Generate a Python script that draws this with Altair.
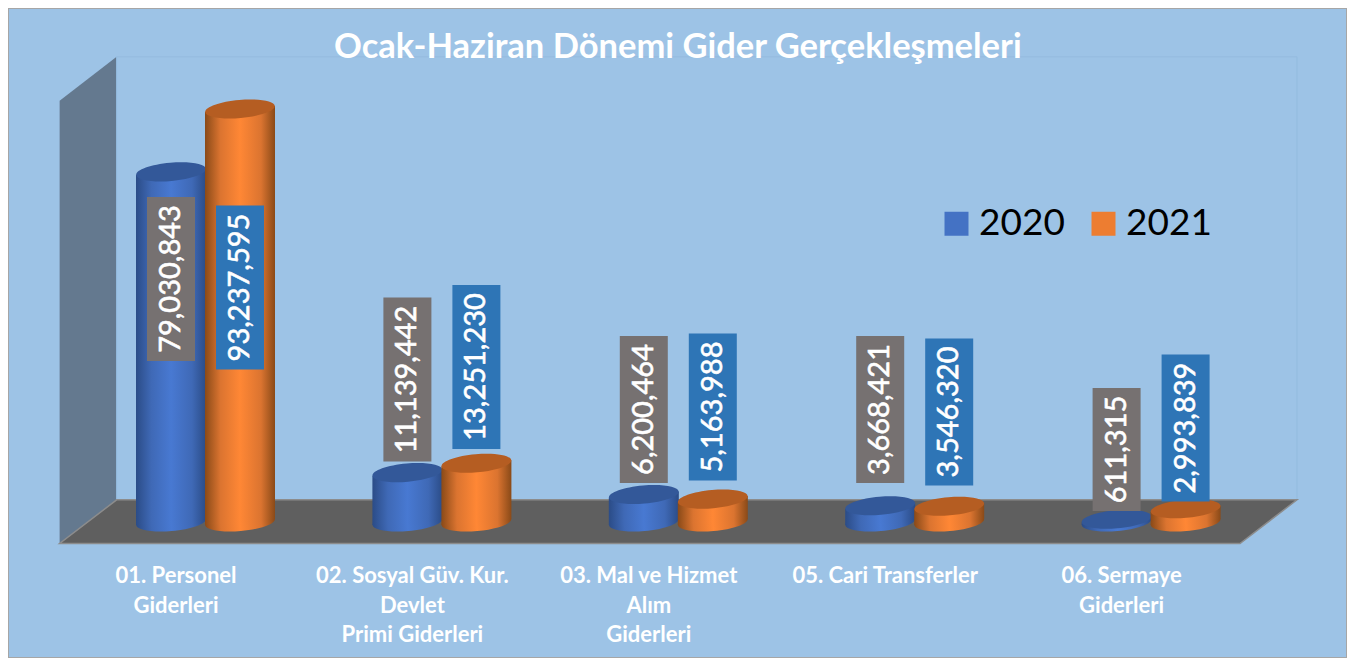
import altair as alt
import pandas as pd

title_text = "Ocak-Haziran Dönemi Gider Gerçekleşmeleri"
categories = ["01. Personel\nGiderleri", "02. Sosyal Güv. Kur.\nDevlet\nPrimi Giderleri",
              "03. Mal ve Hizmet\nAlım\nGiderleri", "05. Cari Transferler", "06. Sermaye\nGiderleri"]
years = ["2020", "2021"]
v2020 = [79030843, 11139442, 6200464, 3668421, 611315]
v2021 = [93237595, 13251230, 5163988, 3546320, 2993839]
# where each hand-placed data label is centred, in the units of the value axis
label_mid_2020 = [54850000, 32170000, 25400000, 25400000, 16370000]
label_mid_2021 = [52930000, 35000000, 25960000, 24830000, 21200000]

# chart furniture, in axis units (category index / value)
wall_x = [-0.617, -0.376]
wall_top = [95100000, 105000000]
wall_bottom = [-4850000, 5000000]
floor_value = [5000000, -4850000]
floor_left = [-0.376, -0.617]
floor_right = [4.617, 4.376]
back_x = [-0.376, 4.617]

W, H = 1339, 650
UNIT_PX = 236.4
PX_PER_VALUE = 4.43e-6
BAR_HALF = 35 / UNIT_PX
BAR_SHIFT = 34.5 / UNIT_PX
TILT = 3 / PX_PER_VALUE
xs = alt.Scale(domain=[(8 - 205.5) / UNIT_PX, (8 + W - 205.5) / UNIT_PX], nice=False, zero=False, padding=0)
ys = alt.Scale(domain=[(522 - 8 - H) / PX_PER_VALUE, (522 - 8) / PX_PER_VALUE], nice=False, zero=False, padding=0)

rows = []
for i, cat in enumerate(categories):
    for y, vals, mids in (("2020", v2020, label_mid_2020), ("2021", v2021, label_mid_2021)):
        rows.append(dict(idx=i, category=cat, year=y, value=vals[i], mid=mids[i],
                         sign=-1 if y == "2020" else 1))
df = pd.DataFrame(rows)
sides = pd.DataFrame([dict(r, side=s) for r in rows for s in (-1, 1)])
cats_df = pd.DataFrame({"idx": range(len(categories)), "category": categories})


def X(f):
    return alt.X(f, type="quantitative", scale=xs, axis=None)


def Y(f):
    return alt.Y(f, type="quantitative", scale=ys, axis=None)


def grad(edge, mid, bright):
    return alt.Gradient(gradient="linear", x1=0, x2=1, y1=0, y2=0, stops=[
        alt.GradientStop(color=edge, offset=0), alt.GradientStop(color=mid, offset=0.22),
        alt.GradientStop(color=bright, offset=0.5), alt.GradientStop(color=mid, offset=0.8),
        alt.GradientStop(color=edge, offset=1)])


wall = alt.Chart(pd.DataFrame({"x": wall_x, "t": wall_top, "b": wall_bottom})).mark_area(
    color="#64798F", orient="vertical").encode(x=X("x"), y=Y("t"), y2="b")
back = alt.Chart(pd.DataFrame({"x": [back_x[0]], "x2": [back_x[1]], "t": [wall_top[1]], "b": [wall_bottom[1]]})).mark_rect(
    fill="#9DC3E6", stroke="#94BBDF", strokeWidth=1).encode(x=X("x"), x2="x2", y=Y("t"), y2="b")
floor = alt.Chart(pd.DataFrame({"y": floor_value, "l": floor_left, "r": floor_right})).mark_area(
    color="#5F5F5F", orient="horizontal", stroke="#8C8C8C", strokeWidth=1.5).encode(y=Y("y"), x=X("l"), x2="r")

ELLIPSE = "M-1,0A1,0.26 0 1,1 1,0A1,0.26 0 1,1 -1,0Z"
style = {
    "2020": dict(g=grad("#2B4C87", "#3F69B6", "#4879D2"), top="#335899"),
    "2021": dict(g=grad("#8A4A18", "#DB7430", "#FF8735"), top="#B55D22"),
}
cyl_layers = []
for y in years:
    s = style[y]
    src = alt.Chart(df).transform_filter(alt.datum.year == y).transform_calculate(
        cx=f"datum.idx + datum.sign * {BAR_SHIFT}", zero="0")
    base = src.mark_point(filled=True, shape=ELLIPSE, size=4900, angle=355, fill=s["g"], opacity=1,
                          strokeWidth=0).encode(x=X("cx"), y=Y("zero"))
    body = alt.Chart(sides).transform_filter(alt.datum.year == y).transform_calculate(
        sx=f"datum.idx + datum.sign * {BAR_SHIFT} + datum.side * {BAR_HALF}",
        t=f"datum.value + datum.side * {TILT}",
        b=f"datum.side * {TILT}").mark_area(color=s["g"], orient="vertical").encode(
        x=X("sx"), y=Y("t"), y2="b", detail="idx:N")
    top = src.mark_point(filled=True, shape=ELLIPSE, size=4900, angle=355, fill=s["top"], opacity=1,
                         strokeWidth=0).encode(x=X("cx"), y=Y("value"))
    cyl_layers += [base, body, top]

label_layers = []
for y, col in (("2020", "#767171"), ("2021", "#2E75B6")):
    src = alt.Chart(df).transform_filter(alt.datum.year == y).transform_calculate(
        cx=f"datum.idx + datum.sign * {BAR_SHIFT}",
        d="length('' + datum.value)",
    ).transform_calculate(
        h=f"(14 + 17 * datum.d + 7 * floor((datum.d - 1) / 3)) / {PX_PER_VALUE}",
    ).transform_calculate(lo="datum.mid - datum.h / 2", hi="datum.mid + datum.h / 2")
    label_layers.append(src.mark_bar(color=col, size=48, orient="vertical").encode(x=X("cx"), y=Y("lo"), y2="hi"))
    label_layers.append(src.mark_text(color="white", font="Lato", fontSize=29, angle=270, stroke="white",
                                      strokeWidth=0.6, align="center", baseline="middle").encode(
        x=X("cx"), y=Y("mid"), text=alt.Text("value:Q", format=",.0f")))

cat_text = alt.Chart(cats_df).mark_text(
    lineBreak="\n", lineHeight=29.5, dx=-29.5, baseline="top", align="center",
    font="Lato", fontWeight="bold", fontSize=22, color="#FFFFFF").encode(
    x=X("idx"), y=alt.value(558), text="category:N")

legend_layer = alt.Chart(df).mark_point(filled=True, size=0, opacity=1).encode(
    x=X("idx"), y=Y("value"),
    color=alt.Color("year:N", scale=alt.Scale(domain=years, range=["#4472C4", "#ED7D31"]),
                    legend=alt.Legend(title=None, orient="none", legendX=930, legendY=197, direction="horizontal",
                                      symbolType="square", symbolSize=576, symbolStrokeWidth=0, symbolOpacity=1,
                                      labelFont="Lato", labelFontSize=37, labelColor="black", labelOffset=4,
                                      columnPadding=20)))

chart = alt.layer(wall, back, floor, *cyl_layers, *label_layers, cat_text, legend_layer).properties(
    width=W, height=H, padding=0, background="#9DC3E6", autosize=alt.AutoSizeParams(type="none"),
    title=alt.TitleParams(title_text, anchor="start", dx=326, dy=61, font="Lato", fontWeight="bold",
                          fontSize=34.5, color="white"),
).configure_view(stroke="#A6A6A6", strokeWidth=2)

chart.save("out.html", embed_options={"renderer": "svg", "actions": False})
